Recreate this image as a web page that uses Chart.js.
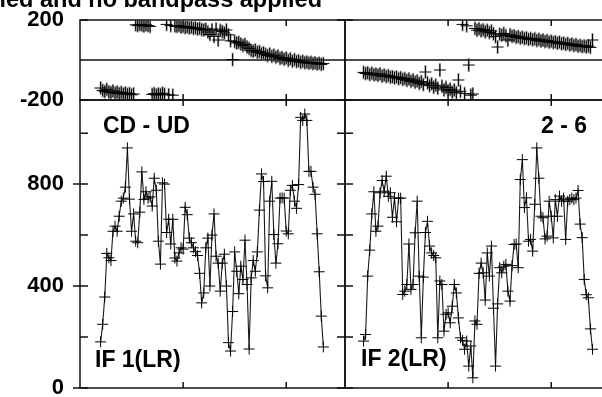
<!DOCTYPE html>
<html>
<head>
<meta charset="utf-8">
<script src="https://cdn.jsdelivr.net/npm/chart.js@4.4.1/dist/chart.umd.min.js"></script>
<style>
  html, body { margin: 0; padding: 0; background: #fff; }
  #wrap { position: relative; width: 602px; height: 397px; overflow: hidden; background: #fff;
          font-family: 'Liberation Sans', Arial, sans-serif; }
  canvas { position: absolute; }
  .lbl { position: absolute; font-weight: bold; font-size: 23px; line-height: 23px;
         white-space: nowrap; color: #000; }
</style>
</head>
<body>
<div id="wrap">
  <canvas id="phase1" width="350" height="120" style="left:0;top:0"></canvas>
  <canvas id="amp1" width="350" height="318" style="left:0;top:85px"></canvas>
  <canvas id="phase2" width="275" height="120" style="left:340px;top:0"></canvas>
  <canvas id="amp2" width="275" height="318" style="left:340px;top:85px"></canvas>

  <div class="lbl" style="left:-478px;width:800px;text-align:right;top:-12px;font-size:23.5px;line-height:23.5px">applied and no bandpass applied</div>
  <div class="lbl" style="left:103px;top:114px">CD - UD</div>
  <div class="lbl" style="left:387px;width:200px;text-align:right;top:114px">2 - 6</div>
  <div class="lbl" style="left:95px;top:348px">IF 1(LR)</div>
  <div class="lbl" style="left:361px;top:347px">IF 2(LR)</div>
</div>
<script>
// 軸刻度
const xTickValues = [50, 100];
const phaseTickValues = [-200, 0, 200];
const phaseTickLabels = [-200, 200];
const ampTickValues = [0, 200, 400, 600, 800, 1000];
const ampTickLabels = [0, 400, 800];

// IF 1 (左)
const if1FirstChannel = 10;
const if1Amplitude = [
  181, 250, 357, 528, 511, 500, 615, 635, 615, 674,
  733, 745, 788, 942, 741, 615, 683, 576, 570, 690,
  848, 740, 770, 745, 750, 714, 823, 776, 576, 486,
  805, 800, 610, 662, 565, 662, 510, 498, 530, 550,
  545, 709, 680, 588, 570, 550, 535, 520, 450, 334,
  373, 550, 588, 400, 600, 683, 517, 490, 380, 490,
  525, 400, 178, 145, 300, 534, 458, 370, 478, 426,
  580, 406, 153, 432, 500, 458, 534, 698, 840, 810,
  440, 393, 733, 811, 602, 490, 566, 745, 746, 745,
  616, 605, 776, 795, 733, 705, 798, 1062, 1050, 1075,
  1050, 850, 850, 788, 760, 605, 456, 282, 161
];
const if1Phase = [
  -140, -152, -158, -147, -160, -163, -155, -166, -160, -168,
  -162, -170, -165, -172, -168, -174, -170, 176, 172, 178,
  174, 170, 176, 172, 168, -172, -168, -175, -170, -173,
  -166, -171, 178, -174, 172, -176, 170, 168, 172, 165,
  168, 162, 166, 160, 164, 158, 161, 155, 158, 152,
  150, 154, 140, 128, 150, 118, 155, 100, 148, 142,
  135, 150, 126, 96, 2, 92, 85, 88, 80, 72,
  78, 65, 58, 48, 44, 50, 38, 42, 32, 36,
  28, 22, 30, 18, 24, 14, 20, 8, 12, 4,
  10, -2, 6, -6, 2, -8, -4, -12, -6, -14,
  -10, -16, -12, -18, -14, -20, -16, -22, -18
];

// IF 2 (右)
const if2FirstChannel = 9;
const if2Amplitude = [
  184, 210, 439, 541, 683, 770, 615, 635, 766, 814,
  772, 831, 752, 766, 670, 745, 652, 745, 745, 367,
  380, 406, 565, 387, 406, 609, 733, 439, 197, 435,
  610, 654, 557, 530, 520, 511, 197, 420, 406, 223,
  289, 295, 256, 321, 406, 373, 275, 197, 187, 152,
  184, 86, 165, 40, 263, 250, 450, 490, 452, 345,
  530, 439, 557, 313, 86, 330, 472, 452, 478, 485,
  380, 341, 480, 563, 565, 472, 818, 896, 708, 746,
  576, 583, 537, 721, 942, 823, 674, 668, 585, 596,
  733, 674, 589, 739, 674, 753, 733, 745, 583, 733,
  739, 745, 739, 745, 775, 643, 590, 426, 366, 354,
  232, 152
];
const if2Phase = [
  -62, -68, -64, -73, -66, -74, -71, -76, -70, -81, -75, -83,
  -78, -86, -84, -89, -85, -94, -88, -97, -93, -102,
  -95, -107, -100, -111, -105, -117, -108, -123, -60, -114,
  -128, -119, -136, -126, -141, -50, -131, -149, -137, -154,
  -146, -161, -150, -164, -100, -157, 178, -168, 171, -25,
  -176, -170, 158, 149, 156, 146, 151, 141, 149, 137,
  145, 131, 117, 65, 129, 124, 133, 121, 100, 126,
  118, 121, 113, 117, 109, 114, 107, 111, 103, 108,
  101, 106, 97, 103, 95, 100, 92, 97, 89, 94,
  87, 91, 84, 89, 81, 85, 78, 83, 75, 80,
  72, 77, 69, 73, 67, 71, 65, 69, 63, 100
];

// 外框與刻度
const framePlugin = {
  id: 'frame',
  beforeDatasetsDraw(chart, args, opts) {
    const {ctx, chartArea: a, scales: {x, y}} = chart;
    ctx.save();
    ctx.strokeStyle = '#111';
    ctx.lineWidth = 1.5;
    ctx.strokeRect(a.left, a.top, a.right - a.left, a.bottom - a.top);
    ctx.beginPath();
    xTickValues.forEach(v => {
      const px = x.getPixelForValue(v);
      ctx.moveTo(px, a.top); ctx.lineTo(px, a.top + 6);
      ctx.moveTo(px, a.bottom); ctx.lineTo(px, a.bottom - 6);
    });
    opts.yTicks.forEach(v => {
      const py = y.getPixelForValue(v);
      ctx.moveTo(a.left, py); ctx.lineTo(a.left + 8, py);
      ctx.moveTo(a.right, py); ctx.lineTo(a.right - 8, py);
    });
    (opts.yOut || []).forEach(v => {
      const py = y.getPixelForValue(v);
      ctx.moveTo(a.left, py); ctx.lineTo(a.left - 7, py);
    });
    if (opts.zeroLine) {
      const py = y.getPixelForValue(0);
      ctx.moveTo(a.left, py); ctx.lineTo(a.right, py);
    }
    ctx.stroke();
    ctx.restore();
  }
};

const tickFont = { family: 'Liberation Sans', size: 22, weight: 'bold' };

function yAxis(min, max, step, labels, show) {
  const axis = {
    type: 'linear', min: min, max: max, display: show,
    grid: { display: false }, border: { display: false },
    ticks: {
      stepSize: step, includeBounds: false, padding: 8, color: '#000', font: tickFont,
      autoSkip: false,
      callback: v => labels.includes(v) ? String(v) : ''
    }
  };
  if (show) {
    axis.afterFit = s => { s.width = 80; s.paddingTop = 0; s.paddingBottom = 0; };
  }
  return axis;
}

function xAxis() {
  return { type: 'linear', min: 0, max: 128.5, display: false };
}

function points(first, values) {
  return values.map((v, i) => ({ x: first + i, y: v }));
}

function phaseChart(id, first, values, showLabels) {
  const pts = points(first, values);
  return new Chart(document.getElementById(id), {
    type: 'scatter',
    data: {
      datasets: [
        { data: pts, order: 0, pointStyle: 'cross', pointRadius: 6,
          pointBorderColor: '#000', pointBorderWidth: 1 },
        { data: pts, order: 1, pointStyle: 'line', pointRotation: 90, pointRadius: 7,
          pointBorderColor: 'rgba(105,105,105,0.7)', pointBorderWidth: 2 }
      ]
    },
    options: {
      responsive: false, animation: false, events: [],
      layout: { autoPadding: false, padding: { left: showLabels ? 0 : 5, right: 5, top: 20, bottom: 20 } },
      scales: { x: xAxis(), y: yAxis(-200, 200, 200, phaseTickLabels, showLabels) },
      plugins: {
        legend: { display: false }, tooltip: { enabled: false },
        frame: { yTicks: phaseTickValues, zeroLine: true }
      }
    },
    plugins: [framePlugin]
  });
}

function ampChart(id, first, values, showLabels) {
  return new Chart(document.getElementById(id), {
    type: 'line',
    data: {
      datasets: [{
        data: points(first, values),
        borderColor: '#1a1a1a', borderWidth: 1.1, tension: 0, fill: false,
        pointStyle: 'cross', pointRadius: 5.5,
        pointBorderColor: '#000', pointBorderWidth: 1
      }]
    },
    options: {
      responsive: false, animation: false, events: [],
      layout: { autoPadding: false, padding: { left: showLabels ? 0 : 5, right: 5, top: 15, bottom: 15 } },
      scales: { x: xAxis(), y: yAxis(0, 1130, 200, ampTickLabels, showLabels) },
      plugins: {
        legend: { display: false }, tooltip: { enabled: false },
        frame: { yTicks: ampTickValues, yOut: showLabels ? ampTickLabels : [] }
      }
    },
    plugins: [framePlugin]
  });
}

phaseChart('phase1', if1FirstChannel, if1Phase, true);
ampChart('amp1', if1FirstChannel, if1Amplitude, true);
phaseChart('phase2', if2FirstChannel, if2Phase, false);
ampChart('amp2', if2FirstChannel, if2Amplitude, false);
</script>
</body>
</html>
